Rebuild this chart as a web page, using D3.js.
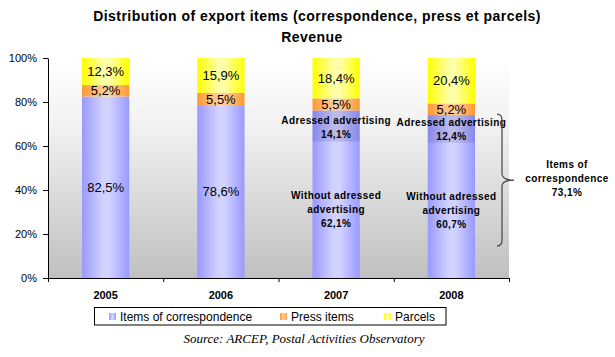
<!DOCTYPE html>
<html><head><meta charset="utf-8">
<script src="https://cdn.jsdelivr.net/npm/d3@7"></script>
<style>body{margin:0;background:#fff}svg{display:block}</style>
</head><body>
<script>
const years = ["2005","2006","2007","2008"];
const correspondence = [82.5, 78.6, 76.2, 73.1];
const press = [5.2, 5.5, 5.5, 5.2];
const parcels = [12.3, 15.9, 18.4, 20.4];
const addressed = [null, null, 14.1, 12.4];
const withoutAddressed = [null, null, 62.1, 60.7];
const yTicks = [0, 0.2, 0.4, 0.6, 0.8, 1];
const corrTotal2008 = "73,1%";
const seriesNames = ["Items of correspondence", "Press items", "Parcels"];
const fmt = v => d3.format(".1f")(v).replace(".", ",") + "%";

(function(){
const W = 615, H = 357;
const FONT = "Liberation Sans, Arial, sans-serif";
const svg = d3.select("body").append("svg").attr("width", W).attr("height", H);
const defs = svg.append("defs");
function hgrad(id, edge, mid) {
  const g = defs.append("linearGradient").attr("id", id).attr("x1", "0").attr("x2", "1").attr("y1", "0").attr("y2", "0");
  g.append("stop").attr("offset", "0%").attr("stop-color", edge);
  g.append("stop").attr("offset", "45%").attr("stop-color", mid);
  g.append("stop").attr("offset", "58%").attr("stop-color", mid);
  g.append("stop").attr("offset", "100%").attr("stop-color", edge);
}
hgrad("gCorr", "#9999ff", "#d2d2ff");
hgrad("gPress", "#ff9933", "#ffcc99");
hgrad("gParc", "#ffff00", "#ffffa8");
const bg = defs.append("linearGradient").attr("id", "gBg").attr("x1", "0").attr("x2", "0").attr("y1", "0").attr("y2", "1");
bg.append("stop").attr("offset", "0%").attr("stop-color", "#ffffff");
bg.append("stop").attr("offset", "30%").attr("stop-color", "#f2f2f2");
bg.append("stop").attr("offset", "100%").attr("stop-color", "#c0c0c0");

const fills = ["url(#gCorr)", "url(#gPress)", "url(#gParc)"];

const mLeft = 48, mRight = 509, mTop = 58, mBottom = 278;
const x = d3.scaleBand().domain(years).range([mLeft, mRight]).padding(0);
const y = d3.scaleLinear().domain([0, 1]).range([mBottom, mTop]);
const barW = x.bandwidth() * 0.41;

svg.append("rect").attr("x", mLeft).attr("y", mTop).attr("width", mRight - mLeft).attr("height", mBottom - mTop).attr("fill", "url(#gBg)");

svg.append("text").attr("x", 317).attr("y", 21).attr("text-anchor", "middle")
  .attr("font-family", FONT).attr("font-weight", "bold").attr("font-size", 14).attr("letter-spacing", 0.45)
  .text("Distribution of export items (correspondence, press et parcels)");
svg.append("text").attr("x", 312).attr("y", 42).attr("text-anchor", "middle")
  .attr("font-family", FONT).attr("font-weight", "bold").attr("font-size", 14).attr("letter-spacing", 0.45)
  .text("Revenue");

const rows = years.map((yr, i) => ({year: yr, c: correspondence[i], p: press[i], r: parcels[i], i}));
const stack = d3.stack().keys(["c", "p", "r"]).offset(d3.stackOffsetExpand);
const series = stack(rows);

const g = svg.append("g");
series.forEach((s, si) => {
  g.selectAll(null).data(s).enter().append("rect")
    .attr("x", d => x(d.data.year) + (x.bandwidth() - barW) / 2)
    .attr("width", barW)
    .attr("y", d => y(d[1]))
    .attr("height", d => y(d[0]) - y(d[1]))
    .attr("fill", fills[si]);
});

const corrS = series[0];
rows.forEach((r, i) => {
  if (addressed[i] == null) return;
  const total = correspondence[i] + press[i] + parcels[i];
  const topV = corrS[i][1];
  const botV = topV - addressed[i] / total;
  g.append("rect").attr("x", x(r.year) + (x.bandwidth() - barW) / 2).attr("width", barW)
    .attr("y", y(topV)).attr("height", y(botV) - y(topV)).attr("fill", "#000040").attr("opacity", 0.11);
});

const lab = svg.append("g").attr("font-family", FONT).attr("fill", "#000");
series.forEach((s, si) => {
  s.forEach((d, i) => {
    if (si === 0 && addressed[i] != null) return;
    const vals = [correspondence, press, parcels][si];
    lab.append("text").attr("x", x(years[i]) + x.bandwidth() / 2).attr("y", (y(d[0]) + y(d[1])) / 2 + 4.5)
      .attr("text-anchor", "middle").attr("font-size", 13).text(fmt(vals[i]));
  });
});
rows.forEach((r, i) => {
  if (addressed[i] == null) return;
  const total = correspondence[i] + press[i] + parcels[i];
  const topV = corrS[i][1];
  const midV = topV - addressed[i] / total;
  const cx = x(r.year) + x.bandwidth() / 2;
  const c1 = (y(topV) + y(midV)) / 2 + 1;
  const c2 = (y(midV) + y(0)) / 2;
  const lines1 = ["Adressed advertising", fmt(addressed[i])];
  const lines2 = ["Without adressed", "advertising", fmt(withoutAddressed[i])];
  [[lines1, c1], [lines2, c2]].forEach(([ls, c]) => {
    ls.forEach((t, k) => {
      lab.append("text").attr("x", cx).attr("y", c + (k - (ls.length - 1) / 2) * 14 + 3.5)
        .attr("text-anchor", "middle").attr("font-size", 10).attr("font-weight", "bold")
        .attr("letter-spacing", 0.4).text(t);
    });
  });
});

{
  const i = 3;
  const y0 = y(corrS[i][1]) - 1, y1 = y(0.145);
  const xm = mRight - 7, xt = mRight + 5;
  const ym = (y0 + y1) / 2;
  const p = d3.path();
  p.moveTo(xm - 5, y0);
  p.quadraticCurveTo(xm, y0, xm, y0 + 6);
  p.lineTo(xm, ym - 6);
  p.quadraticCurveTo(xm, ym, xt, ym);
  p.quadraticCurveTo(xm, ym, xm, ym + 6);
  p.lineTo(xm, y1 - 6);
  p.quadraticCurveTo(xm, y1, xm - 5, y1);
  svg.append("path").attr("d", p.toString()).attr("fill", "none").attr("stroke", "#444").attr("stroke-width", 1.2);
  const lines = ["Items of", "correspondence", corrTotal2008];
  lines.forEach((t, k) => {
    lab.append("text").attr("x", 567).attr("y", ym + (k - 1) * 14 + 1.5)
      .attr("text-anchor", "middle").attr("font-size", 10).attr("font-weight", "bold")
      .attr("letter-spacing", 0.4).text(t);
  });
}

const yAxis = svg.append("g").attr("transform", `translate(${mLeft},0)`)
  .call(d3.axisLeft(y).tickValues(yTicks).tickFormat(d3.format(".0%")).tickSize(5).tickPadding(6).tickSizeOuter(0));
yAxis.selectAll("text").attr("font-family", FONT).attr("font-size", 11).attr("fill", "#000");
yAxis.selectAll("line,path").attr("stroke", "#000");

const xTickScale = d3.scaleLinear().domain([0, years.length]).range([mLeft, mRight]);
const xAxis = svg.append("g").attr("transform", `translate(0,${mBottom})`)
  .call(d3.axisBottom(xTickScale).ticks(years.length).tickFormat("").tickSize(4).tickSizeOuter(0));
xAxis.selectAll("line,path").attr("stroke", "#000");
svg.append("g").selectAll("text").data(years).enter().append("text")
  .attr("x", d => x(d) + x.bandwidth() / 2).attr("y", 299).attr("text-anchor", "middle")
  .attr("font-family", FONT).attr("font-size", 11).attr("font-weight", "bold").text(d => d);

svg.append("rect").attr("x", 94.5).attr("y", 307.5).attr("width", 351.5).attr("height", 17.5).attr("fill", "#fff").attr("stroke", "#000");
const legX = [109, 280, 384];
seriesNames.forEach((n, k) => {
  svg.append("rect").attr("x", legX[k]).attr("y", 313).attr("width", 7).attr("height", 7).attr("fill", fills[k]);
  svg.append("text").attr("x", legX[k] + 11).attr("y", 320.5).attr("font-family", FONT)
    .attr("font-size", 12).text(n);
});

svg.append("text").attr("x", 304).attr("y", 343).attr("text-anchor", "middle")
  .attr("font-family", "Liberation Serif, Times New Roman, serif").attr("font-style", "italic").attr("font-size", 13)
  .text("Source: ARCEP, Postal Activities Observatory");
})();
</script>
</body></html>
